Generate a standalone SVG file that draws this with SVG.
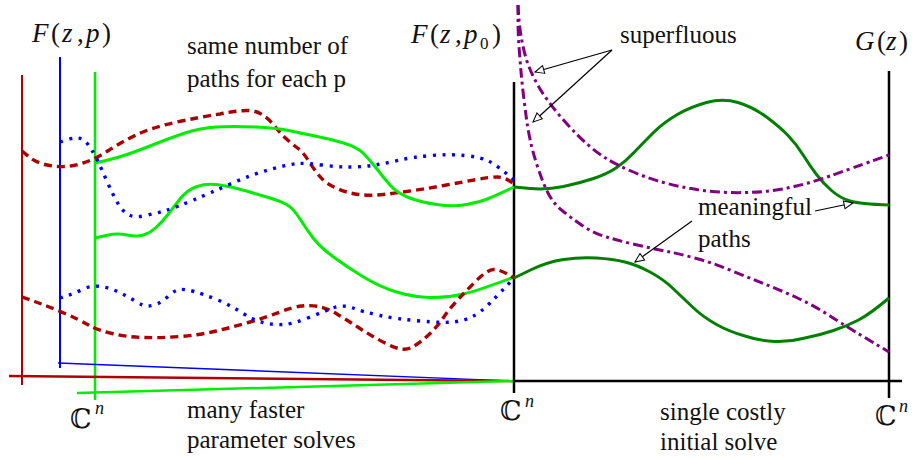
<svg xmlns="http://www.w3.org/2000/svg" width="914" height="458" viewBox="0 0 914 458">
<style>
text{font-family:"Liberation Serif","Times New Roman",serif;font-size:25px;fill:#111}
.mt{font-size:27px}
.m{font-style:italic}
.u{font-style:normal}
.bb{font-family:"DejaVu Serif","DejaVu Sans",serif;font-size:27px;font-style:normal}
.sup{font-family:"Liberation Serif",serif;font-style:italic;font-size:18px}
.c{fill:none;stroke-linejoin:round}
.rd{stroke:#aa0000;stroke-width:3.4;stroke-dasharray:8 5}
.bd{stroke:#0000ff;stroke-width:3.4;stroke-dasharray:3 6.5}
.lg{stroke:#00ee00;stroke-width:3}
.dg{stroke:#008000;stroke-width:3}
.pp{stroke:#800080;stroke-width:3;stroke-dasharray:10 4 3 4}
.ax{stroke:#000;stroke-width:2.5;fill:none}
.arr{stroke:#000;stroke-width:1.2;fill:none;marker-end:url(#tri)}
</style>
<defs>
<marker id="tri" markerUnits="userSpaceOnUse" markerWidth="11" markerHeight="10" refX="10" refY="5" orient="auto">
<path d="M1,1 L10,5 L1,9 Z" fill="#fff" stroke="#000" stroke-width="1"/>
</marker>
</defs>
<rect width="914" height="458" fill="#fff"/>

<g id="axes">
<line x1="22" y1="75" x2="22" y2="385" stroke="#b00000" stroke-width="2"/>
<line x1="60" y1="57" x2="60" y2="368" stroke="#0000ff" stroke-width="2"/>
<line x1="95" y1="72" x2="95" y2="400" stroke="#00ee00" stroke-width="2.5"/>
<line x1="58" y1="363" x2="514" y2="381" stroke="#0000ff" stroke-width="1.4"/>
<line x1="9" y1="376" x2="514" y2="381" stroke="#b00000" stroke-width="2.5"/>
<line x1="77" y1="393" x2="514" y2="381" stroke="#00ee00" stroke-width="2.5"/>
<line class="ax" x1="514" y1="82" x2="514" y2="393"/>
<line class="ax" x1="514" y1="381" x2="902" y2="381"/>
<line class="ax" x1="889" y1="71" x2="889" y2="398"/>
</g>

<g id="paths-left">
<path class="c rd" d="M22,151 L28.5,156.5 Q35,162 45,164.5 Q55,167 65,166.5 Q75,166 86,162 Q97,158 108.5,150.5 Q120,143 135,135.5 Q150,128 175,122.5 Q200,117 220,114 Q240,110 249,110.5 Q258,111 264,116 Q270,120 275,126.5 Q280,133 286,138.5 Q292,144 297.5,148 Q303,152 308,160 Q313,168 319,175.5 Q325,183 336,188 Q347,193 358.5,194.5 Q370,196 383.5,194.5 Q397,193 413.5,190.5 Q430,188 446.5,185 Q463,182 476.5,179.5 Q490,177 497.5,177 Q505,177 514,184"/>
<path class="c lg" d="M95,163 L106,160.5 Q117,158 128.5,154 Q140,150 155,144 Q170,138 185,133 Q200,128 216.5,127 Q233,126 255,127 Q277,128 288.5,130.5 Q300,133 315,136 Q330,139 343.5,143 Q357,147 363.5,153.5 Q370,160 376.5,168.5 Q383,177 390,185 Q397,193 408.5,197.5 Q420,202 436.5,204.5 Q453,207 466.5,204.5 Q480,202 488.5,198.5 Q497,195 514,187"/>
<path class="c lg" d="M95,238 L106,235.5 Q117,233 127,235 Q137,237 143.5,235 Q150,233 156,227.5 Q162,222 167.5,215 Q173,208 180,199 Q187,190 197,186.5 Q207,183 220,185 Q233,187 246.5,191 Q260,195 270,198 Q280,201 286.5,204.5 Q293,208 300,219 Q307,230 313.5,238.5 Q320,247 333.5,257 Q347,267 363.5,277 Q380,287 396.5,292 Q413,297 430,297.5 Q447,298 463.5,294 Q480,290 514,277"/>
<path class="c rd" d="M22,297 L36,302 Q50,307 65,313.5 Q80,320 88.5,325 Q97,330 112,333.5 Q127,337 143.5,337.5 Q160,338 180,336.5 Q200,335 216.5,331 Q233,327 250,322 Q267,317 280,312 Q293,307 301.5,306 Q310,305 318.5,306.5 Q327,308 337,314 Q347,320 360,328.5 Q373,337 388,344.5 Q403,352 411.5,347.5 Q420,343 428.5,335 Q437,327 443.5,317.5 Q450,308 458.5,299 Q467,290 477,280 Q487,270 493.5,269.5 Q500,269 514,278"/>
<path class="c bd" d="M60,142 L66,140 Q72,138 77,138 Q82,138 85,141 Q88,144 91.5,149.5 Q95,155 98.5,162.5 Q102,170 107.5,182.5 Q113,195 118,203.5 Q123,212 129,215 Q135,218 146,215.5 Q157,213 167,210 Q177,207 193.5,200 Q210,193 231.5,183.5 Q253,174 271.5,169 Q290,164 298.5,163.5 Q307,163 322,165 Q337,167 350,167 Q363,167 375,165 Q387,163 400,160 Q413,157 431.5,155.5 Q450,154 465,155.5 Q480,157 488.5,161 Q497,165 514,180"/>
<path class="c bd" d="M60,298 L67.5,295.5 Q75,293 83.5,289 Q92,285 101,286.5 Q110,288 118.5,292 Q127,296 135,301 Q143,306 147.5,306 Q152,306 157,304 Q162,302 168.5,296 Q175,290 180,289.5 Q185,289 194,291.5 Q203,294 216.5,299.5 Q230,305 241.5,312.5 Q253,320 263,322.5 Q273,325 283,324.5 Q293,324 306.5,318.5 Q320,313 331.5,308.5 Q343,304 353,308 Q363,312 380,315.5 Q397,319 420,321 Q443,323 453,322 Q463,321 471.5,317 Q480,313 490,303 Q500,293 514,278"/>
</g>

<g id="paths-right">
<path class="c dg" d="M514,187 L530.5,188.5 Q547,190 563.5,186.5 Q580,183 593.5,178.5 Q607,174 616,168 Q625,162 634,152.5 Q643,143 653,133 Q663,123 676.5,115 Q690,107 706.5,102.5 Q723,98 738,102.5 Q753,107 766.5,117 Q780,127 788.5,136 Q797,145 803.5,155.5 Q810,166 816.5,174.5 Q823,183 831.5,190.5 Q840,198 850,201 Q860,204 889,205"/>
<path class="c dg" d="M514,278 L530.5,270 Q547,262 563.5,259.5 Q580,257 596.5,258 Q613,259 625,262 Q637,265 650,272 Q663,279 672.5,288 Q682,297 692.5,307 Q703,317 716.5,324.5 Q730,332 745,336 Q760,341 775,341.5 Q790,342 805,338 Q820,335 833.5,330.5 Q847,326 858.5,320 Q870,314 889,298"/>
<path class="c pp" d="M518,5 L518.5,13.5 Q519,22 520.5,32.5 Q522,43 525,54.5 Q528,66 534,78 Q540,90 548.5,101.5 Q557,113 567.5,124.5 Q578,136 587,144 Q596,152 605.5,158 Q615,164 631,171 Q647,178 663.5,182.5 Q680,187 696.5,189.5 Q713,192 730,192.5 Q747,193 763.5,191.5 Q780,190 796.5,186 Q813,182 830,176 Q847,170 889,155"/>
<path class="c pp" d="M518,5 L518,19 Q518,33 519,46.5 Q520,60 521,71.5 Q522,83 523.5,95.5 Q525,108 526.5,119 Q528,130 530.5,141.5 Q533,153 538,168 Q543,183 548,193 Q553,203 561.5,210 Q570,217 581.5,225 Q593,233 606.5,237 Q620,241 635,244.5 Q650,248 665,251 Q680,254 696.5,258.5 Q713,263 730,270 Q747,277 763.5,283.5 Q780,290 796.5,297.5 Q813,305 830,316 Q847,327 889,352"/>
</g>

<g id="connectors">
<line class="arr" x1="612" y1="50" x2="535" y2="72"/>
<line class="arr" x1="612" y1="50" x2="533" y2="122"/>
<line class="arr" x1="692" y1="221" x2="635" y2="262"/>
<line class="arr" x1="815" y1="211" x2="853" y2="203"/>
</g>

<g id="label-Fzp">
<text class="mt" y="42"><tspan class="m" x="32">F</tspan><tspan class="u" x="51">(</tspan><tspan class="m" x="62">z</tspan><tspan class="u" x="77">,</tspan><tspan class="m" x="86">p</tspan><tspan class="u" x="102">)</tspan></text>
</g>
<g id="label-Fzp0">
<text class="mt" y="43"><tspan class="m" x="411">F</tspan><tspan class="u" x="430">(</tspan><tspan class="m" x="440">z</tspan><tspan class="u" x="455">,</tspan><tspan class="m" x="464">p</tspan><tspan class="u" x="492">)</tspan></text>
<text x="480" y="49" style="font-size:17px">0</text>
</g>
<g id="label-Gz">
<text class="mt" y="50"><tspan class="m" x="855">G</tspan><tspan class="u" x="877">(</tspan><tspan class="m" x="886">z</tspan><tspan class="u" x="899">)</tspan></text>
</g>

<g id="label-same">
<text x="187" y="54">same number of</text>
<text x="187" y="87">paths for each p</text>
</g>
<g id="label-superfluous"><text x="620" y="43">superfluous</text></g>
<g id="label-meaningful">
<text x="698" y="215">meaningful</text>
<text x="698" y="247">paths</text>
</g>
<g id="label-many">
<text x="187" y="418">many faster</text>
<text x="187" y="448">parameter solves</text>
</g>
<g id="label-single">
<text x="660" y="420">single costly</text>
<text x="660" y="450">initial solve</text>
</g>

<g id="label-Cn-left"><text class="bb" x="70" y="428">ℂ</text><text class="sup" x="95" y="414">n</text></g>
<g id="label-Cn-mid"><text class="bb" x="500" y="420">ℂ</text><text class="sup" x="525" y="407">n</text></g>
<g id="label-Cn-right"><text class="bb" x="875" y="425">ℂ</text><text class="sup" x="899" y="412">n</text></g>
</svg>
